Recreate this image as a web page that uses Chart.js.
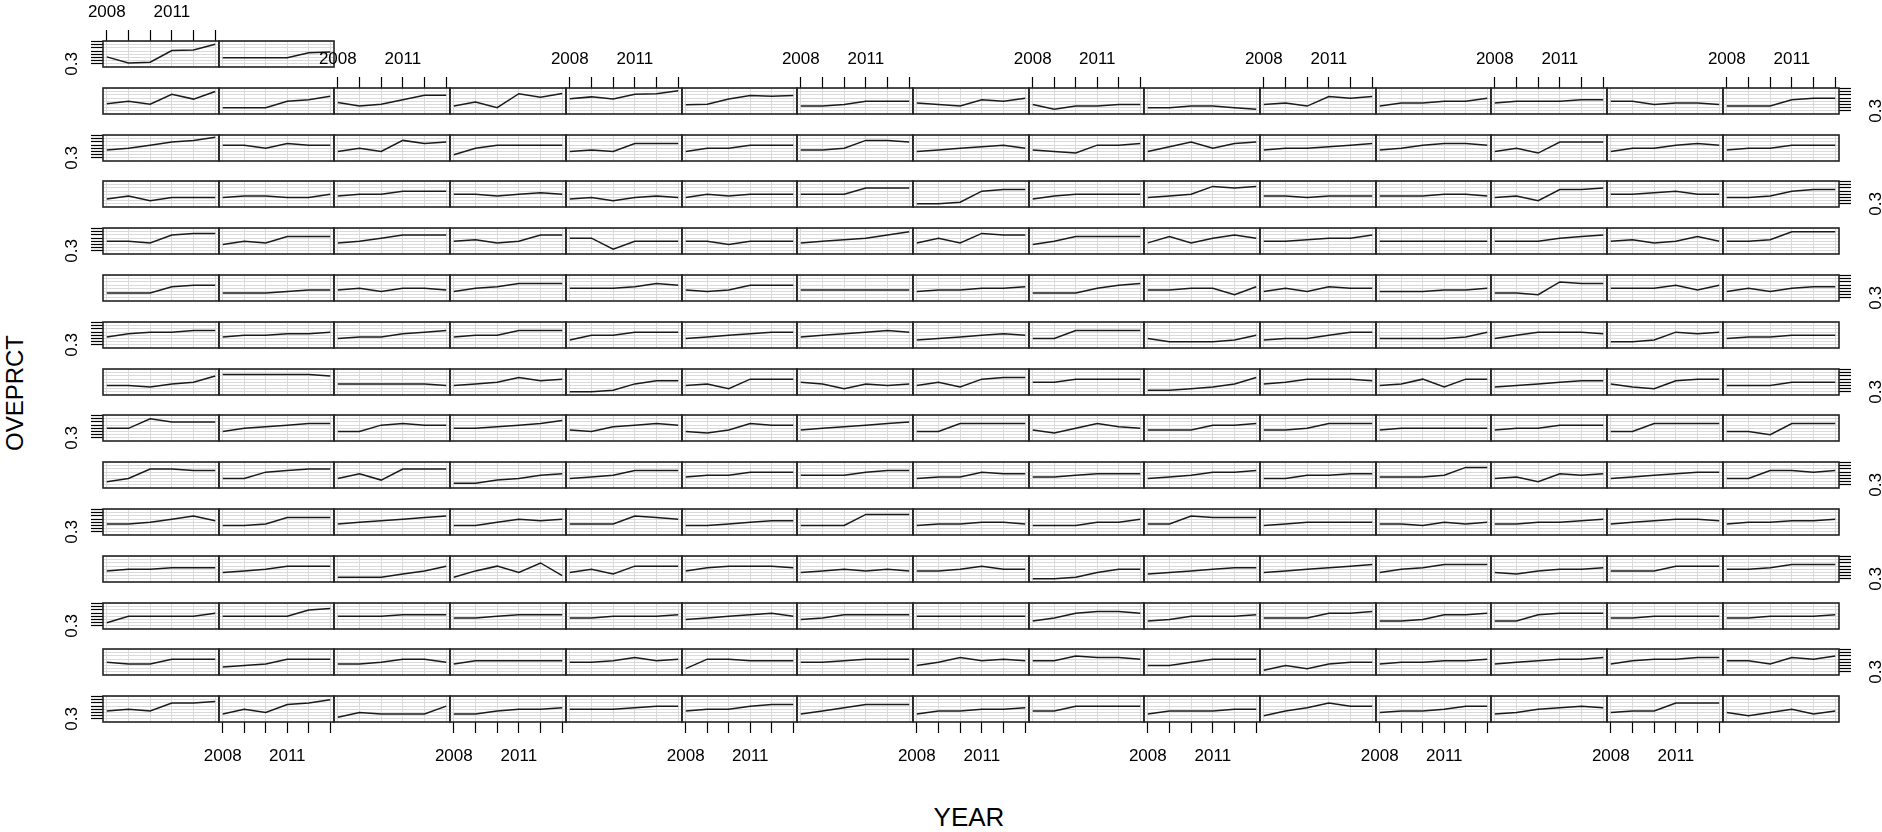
<!DOCTYPE html>
<html><head><meta charset="utf-8">
<script src="https://cdn.jsdelivr.net/npm/chart.js@4.4.0/dist/chart.umd.min.js"></script>
<style>
html,body{margin:0;padding:0;background:#fff;width:1882px;height:832px;overflow:hidden;font-family:"Liberation Sans",Arial,sans-serif;}
#wrap{position:relative;width:1882px;height:832px;overflow:hidden;}
#wrap canvas{position:absolute;}
.ttl{position:absolute;color:#000;font-family:"Liberation Sans",Arial,sans-serif;font-size:26px;white-space:nowrap;line-height:1;}
</style></head><body>
<div id="wrap">
<div class="ttl" id="ylab" style="left:15px;top:393px;font-size:24px;transform:translate(-50%,-50%) rotate(-90deg);">OVEPRCT</div>
<div class="ttl" id="xlab" style="left:969px;top:817px;transform:translate(-50%,-50%);">YEAR</div>
</div>
<script>
// ---- data ----
const years = [2008, 2009, 2010, 2011, 2012, 2013];
const xTickLabels = ['2008', '', '', '2011', '', ''];
const yTicks = [0.3, 0.4, 0.5, 0.6, 0.7, 0.8, 0.9, 1.0];
const yTickLabels = ['0.3', '', '', '', '', '', '', ''];

const row01 = [
 [0.52,0.33,0.35,0.72,0.74,0.92],[0.49,0.49,0.49,0.49,0.65,0.67]];
const row02 = [
 [0.52,0.60,0.51,0.82,0.67,0.91],[0.40,0.40,0.40,0.60,0.65,0.76],[0.56,0.45,0.51,0.65,0.79,0.79],
 [0.45,0.58,0.40,0.84,0.73,0.85],[0.68,0.74,0.67,0.82,0.84,0.93],[0.49,0.51,0.67,0.78,0.76,0.78],
 [0.45,0.45,0.50,0.60,0.60,0.60],[0.55,0.50,0.45,0.65,0.60,0.70],[0.50,0.35,0.45,0.45,0.50,0.50],
 [0.40,0.40,0.45,0.45,0.40,0.35],[0.50,0.55,0.45,0.75,0.70,0.75],[0.45,0.55,0.55,0.60,0.60,0.70],
 [0.55,0.60,0.60,0.60,0.65,0.65],[0.60,0.60,0.50,0.55,0.55,0.50],[0.45,0.45,0.45,0.65,0.70,0.70]];
const row03 = [
 [0.55,0.60,0.70,0.80,0.85,0.95],[0.70,0.70,0.60,0.75,0.70,0.70],[0.50,0.60,0.50,0.85,0.75,0.80],
 [0.40,0.60,0.70,0.70,0.70,0.70],[0.50,0.55,0.50,0.75,0.75,0.75],[0.50,0.60,0.60,0.70,0.70,0.70],
 [0.55,0.55,0.60,0.85,0.85,0.80],[0.50,0.55,0.60,0.65,0.70,0.60],[0.55,0.50,0.45,0.70,0.70,0.75],
 [0.50,0.65,0.80,0.60,0.75,0.80],[0.55,0.60,0.60,0.65,0.70,0.75],[0.55,0.60,0.70,0.75,0.75,0.70],
 [0.50,0.60,0.45,0.80,0.80,0.80],[0.50,0.60,0.60,0.70,0.75,0.70],[0.55,0.60,0.60,0.70,0.70,0.70]];
const row04 = [
 [0.45,0.55,0.40,0.50,0.50,0.50],[0.50,0.55,0.55,0.50,0.50,0.60],[0.55,0.60,0.60,0.70,0.70,0.70],
 [0.60,0.60,0.55,0.60,0.65,0.60],[0.45,0.50,0.40,0.50,0.55,0.50],[0.50,0.60,0.55,0.60,0.60,0.60],
 [0.60,0.60,0.60,0.80,0.80,0.80],[0.30,0.30,0.35,0.70,0.75,0.75],[0.45,0.55,0.60,0.60,0.60,0.60],
 [0.50,0.55,0.60,0.85,0.80,0.85],[0.55,0.55,0.50,0.55,0.55,0.55],[0.55,0.55,0.55,0.60,0.60,0.55],
 [0.50,0.55,0.40,0.75,0.75,0.80],[0.60,0.60,0.65,0.70,0.60,0.60],[0.50,0.50,0.55,0.70,0.75,0.75]];
const row05 = [
 [0.60,0.60,0.55,0.80,0.85,0.85],[0.50,0.60,0.55,0.75,0.75,0.75],[0.55,0.60,0.70,0.80,0.80,0.80],
 [0.60,0.65,0.55,0.60,0.80,0.80],[0.70,0.70,0.35,0.60,0.60,0.60],[0.60,0.60,0.50,0.60,0.60,0.60],
 [0.55,0.60,0.65,0.70,0.80,0.90],[0.55,0.70,0.55,0.85,0.80,0.80],[0.50,0.60,0.75,0.75,0.75,0.75],
 [0.55,0.75,0.55,0.70,0.80,0.70],[0.60,0.60,0.65,0.70,0.70,0.80],[0.60,0.60,0.60,0.60,0.60,0.60],
 [0.60,0.60,0.60,0.70,0.75,0.80],[0.60,0.65,0.55,0.60,0.75,0.60],[0.60,0.60,0.65,0.90,0.90,0.90]];
const row06 = [
 [0.45,0.45,0.45,0.65,0.70,0.70],[0.45,0.45,0.45,0.50,0.55,0.55],[0.55,0.60,0.50,0.60,0.60,0.55],
 [0.50,0.60,0.65,0.75,0.75,0.75],[0.60,0.60,0.60,0.65,0.75,0.70],[0.55,0.50,0.55,0.70,0.70,0.70],
 [0.55,0.55,0.55,0.55,0.55,0.55],[0.50,0.55,0.55,0.60,0.60,0.65],[0.45,0.45,0.45,0.60,0.70,0.75],
 [0.55,0.55,0.60,0.60,0.40,0.65],[0.50,0.60,0.50,0.65,0.60,0.60],[0.50,0.50,0.50,0.55,0.55,0.60],
 [0.45,0.45,0.40,0.80,0.75,0.75],[0.60,0.60,0.60,0.70,0.55,0.70],[0.50,0.60,0.50,0.60,0.65,0.65]];
const row07 = [
 [0.55,0.65,0.70,0.70,0.75,0.75],[0.55,0.60,0.60,0.65,0.65,0.70],[0.50,0.55,0.55,0.65,0.70,0.75],
 [0.55,0.60,0.60,0.75,0.75,0.75],[0.45,0.60,0.60,0.70,0.70,0.70],[0.50,0.55,0.60,0.65,0.70,0.70],
 [0.55,0.60,0.65,0.70,0.75,0.70],[0.45,0.50,0.55,0.60,0.65,0.60],[0.50,0.50,0.75,0.75,0.75,0.75],
 [0.50,0.40,0.40,0.40,0.45,0.60],[0.45,0.50,0.50,0.60,0.70,0.70],[0.50,0.50,0.50,0.50,0.55,0.70],
 [0.50,0.60,0.70,0.70,0.70,0.65],[0.40,0.40,0.45,0.70,0.65,0.70],[0.50,0.55,0.55,0.60,0.60,0.60]];
const row08 = [
 [0.50,0.50,0.45,0.55,0.60,0.80],[0.85,0.85,0.85,0.85,0.85,0.80],[0.55,0.55,0.55,0.55,0.55,0.50],
 [0.50,0.55,0.60,0.75,0.65,0.70],[0.30,0.30,0.35,0.55,0.65,0.65],[0.50,0.55,0.40,0.70,0.70,0.70],
 [0.60,0.55,0.40,0.55,0.50,0.55],[0.50,0.60,0.45,0.70,0.75,0.75],[0.60,0.60,0.70,0.70,0.70,0.70],
 [0.35,0.35,0.40,0.45,0.55,0.75],[0.55,0.60,0.70,0.70,0.70,0.65],[0.50,0.55,0.70,0.45,0.70,0.70],
 [0.45,0.50,0.55,0.60,0.65,0.65],[0.55,0.45,0.40,0.65,0.70,0.70],[0.50,0.50,0.50,0.60,0.60,0.60]];
const row09 = [
 [0.60,0.60,0.90,0.80,0.80,0.80],[0.50,0.60,0.65,0.70,0.75,0.75],[0.50,0.50,0.70,0.75,0.70,0.70],
 [0.60,0.60,0.65,0.70,0.75,0.85],[0.55,0.50,0.65,0.70,0.75,0.70],[0.50,0.45,0.55,0.75,0.70,0.70],
 [0.55,0.60,0.65,0.70,0.75,0.80],[0.50,0.50,0.75,0.75,0.75,0.75],[0.55,0.45,0.60,0.75,0.65,0.60],
 [0.55,0.55,0.55,0.70,0.70,0.75],[0.55,0.55,0.60,0.75,0.75,0.75],[0.55,0.60,0.60,0.60,0.60,0.60],
 [0.55,0.60,0.60,0.70,0.70,0.70],[0.50,0.50,0.75,0.75,0.75,0.75],[0.50,0.50,0.40,0.75,0.75,0.75]];
const row10 = [
 [0.40,0.50,0.80,0.80,0.75,0.75],[0.50,0.50,0.70,0.75,0.80,0.80],[0.50,0.65,0.45,0.80,0.80,0.80],
 [0.35,0.35,0.45,0.50,0.60,0.65],[0.50,0.55,0.60,0.75,0.75,0.75],[0.55,0.60,0.60,0.70,0.70,0.70],
 [0.60,0.60,0.60,0.70,0.75,0.75],[0.50,0.55,0.55,0.70,0.65,0.65],[0.55,0.55,0.60,0.65,0.65,0.65],
 [0.50,0.55,0.60,0.70,0.70,0.75],[0.50,0.50,0.60,0.60,0.65,0.65],[0.55,0.55,0.55,0.60,0.85,0.85],
 [0.50,0.55,0.40,0.65,0.60,0.65],[0.50,0.55,0.60,0.65,0.70,0.70],[0.50,0.50,0.75,0.75,0.70,0.75]];
const row11 = [
 [0.55,0.55,0.60,0.70,0.80,0.65],[0.50,0.50,0.55,0.75,0.75,0.75],[0.55,0.60,0.65,0.70,0.75,0.80],
 [0.50,0.50,0.60,0.70,0.65,0.70],[0.55,0.55,0.55,0.80,0.75,0.70],[0.50,0.50,0.55,0.60,0.65,0.65],
 [0.50,0.50,0.50,0.85,0.85,0.85],[0.50,0.55,0.55,0.60,0.60,0.55],[0.50,0.50,0.50,0.60,0.60,0.70],
 [0.55,0.55,0.80,0.75,0.75,0.75],[0.50,0.55,0.60,0.60,0.60,0.60],[0.55,0.55,0.50,0.60,0.55,0.60],
 [0.55,0.55,0.60,0.60,0.65,0.70],[0.55,0.60,0.65,0.70,0.70,0.65],[0.55,0.60,0.60,0.65,0.65,0.70]];
const row12 = [
 [0.55,0.60,0.60,0.65,0.65,0.65],[0.50,0.55,0.60,0.70,0.70,0.70],[0.35,0.35,0.35,0.45,0.55,0.70],
 [0.35,0.55,0.70,0.50,0.80,0.40],[0.50,0.60,0.45,0.70,0.70,0.70],[0.55,0.65,0.70,0.70,0.70,0.65],
 [0.50,0.55,0.60,0.55,0.60,0.55],[0.55,0.55,0.60,0.70,0.60,0.60],[0.30,0.30,0.35,0.50,0.60,0.60],
 [0.45,0.50,0.55,0.60,0.65,0.65],[0.50,0.55,0.60,0.65,0.70,0.75],[0.50,0.60,0.65,0.75,0.75,0.75],
 [0.50,0.45,0.55,0.60,0.60,0.65],[0.55,0.55,0.55,0.70,0.70,0.70],[0.60,0.60,0.65,0.75,0.75,0.75]];
const row13 = [
 [0.40,0.60,0.60,0.60,0.60,0.70],[0.60,0.60,0.60,0.60,0.80,0.85],[0.60,0.60,0.60,0.65,0.65,0.65],
 [0.55,0.55,0.60,0.65,0.65,0.65],[0.55,0.55,0.60,0.60,0.60,0.65],[0.50,0.55,0.60,0.65,0.70,0.60],
 [0.50,0.55,0.65,0.65,0.65,0.65],[0.60,0.60,0.60,0.60,0.60,0.60],[0.45,0.55,0.70,0.75,0.75,0.70],
 [0.45,0.50,0.60,0.60,0.60,0.65],[0.55,0.55,0.55,0.70,0.70,0.75],[0.45,0.45,0.50,0.65,0.65,0.70],
 [0.45,0.45,0.65,0.70,0.70,0.70],[0.55,0.55,0.60,0.60,0.60,0.60],[0.55,0.55,0.60,0.60,0.60,0.65]];
const row14 = [
 [0.60,0.55,0.55,0.70,0.70,0.70],[0.45,0.50,0.55,0.70,0.70,0.70],[0.55,0.55,0.60,0.70,0.70,0.60],
 [0.55,0.65,0.65,0.65,0.65,0.65],[0.60,0.60,0.65,0.75,0.65,0.70],[0.40,0.70,0.70,0.65,0.65,0.65],
 [0.60,0.60,0.65,0.70,0.70,0.70],[0.50,0.60,0.75,0.65,0.70,0.65],[0.65,0.65,0.80,0.75,0.75,0.70],
 [0.50,0.50,0.60,0.70,0.70,0.70],[0.35,0.50,0.40,0.55,0.60,0.60],[0.55,0.60,0.60,0.65,0.65,0.70],
 [0.55,0.60,0.65,0.70,0.70,0.75],[0.55,0.65,0.70,0.70,0.75,0.75],[0.65,0.65,0.55,0.75,0.70,0.80]];
const row15 = [
 [0.55,0.60,0.55,0.80,0.80,0.85],[0.45,0.60,0.50,0.75,0.80,0.90],[0.35,0.50,0.45,0.45,0.45,0.70],
 [0.45,0.45,0.55,0.60,0.60,0.65],[0.60,0.60,0.60,0.65,0.70,0.70],[0.55,0.60,0.60,0.70,0.75,0.75],
 [0.45,0.55,0.65,0.75,0.75,0.75],[0.45,0.55,0.55,0.60,0.60,0.65],[0.55,0.55,0.70,0.70,0.70,0.70],
 [0.45,0.55,0.55,0.55,0.60,0.60],[0.40,0.55,0.65,0.80,0.70,0.70],[0.50,0.55,0.55,0.60,0.70,0.70],
 [0.45,0.50,0.60,0.65,0.70,0.65],[0.50,0.55,0.55,0.80,0.80,0.80],[0.50,0.40,0.50,0.60,0.45,0.55]];

const rows = [row01,row02,row03,row04,row05,row06,row07,row08,row09,row10,row11,row12,row13,row14,row15];

// ---- layout / style ----
const X0 = 103, PW = 115.7, Y0 = 41, PITCH = 46.8, PH = 26;
const M = 50;
const XMIN = 2007.825, XMAX = 2013.175;
const YMIN = 0.2, YMAX = 1.02;
const FONT = {family: '"Liberation Sans", Arial, sans-serif', size: 17};
const GRID = '#dadada';

const framePlugin = {
  id: 'frame',
  afterDraw(chart) {
    const a = chart.chartArea, ctx = chart.ctx;
    ctx.save();
    ctx.strokeStyle = '#222';
    ctx.lineWidth = 1.6;
    ctx.strokeRect(a.left, a.top, a.right - a.left, a.bottom - a.top);
    ctx.restore();
  }
};
const yLabelPlugin = {
  id: 'ylabels',
  afterDraw(chart, args, opts) {
    const ctx = chart.ctx;
    ctx.save();
    ctx.fillStyle = '#000';
    ctx.font = FONT.size + 'px ' + FONT.family;
    ctx.textAlign = 'center';
    ctx.textBaseline = 'middle';
    const draw = (scale, x) => {
      yTicks.forEach((v, i) => {
        const t = yTickLabels[i];
        if (!t) return;
        const y = scale.getPixelForValue(v);
        ctx.save();
        ctx.translate(x, y);
        ctx.rotate(-Math.PI / 2);
        ctx.fillText(t, 0, 0);
        ctx.restore();
      });
    };
    if (opts.left) draw(chart.scales.y, chart.chartArea.left - 31);
    if (opts.right) draw(chart.scales.yRight, chart.chartArea.right + 37);
    ctx.restore();
  }
};

const setX = s => { s.ticks = years.map(v => ({value: v})); };
const setY = s => { s.ticks = yTicks.map(v => ({value: v})); };

function xScale(pos, show, onArea) {
  return {
    type: 'linear', axis: 'x', position: pos, min: XMIN, max: XMAX,
    afterBuildTicks: setX,
    afterFit: s => { s.height = M; },
    border: {display: false},
    grid: {display: true, drawOnChartArea: onArea, color: GRID, lineWidth: 1,
           drawTicks: show, tickLength: 11, tickColor: '#000', tickWidth: 1.2},
    ticks: {display: show, autoSkip: false, maxRotation: 0, minRotation: 0,
            padding: pos === 'top' ? 7 : 13.5, color: '#000', font: FONT,
            callback: (v, i) => xTickLabels[i]}
  };
}
function yScale(pos, show, onArea) {
  return {
    type: 'linear', axis: 'y', position: pos, min: YMIN, max: YMAX,
    afterBuildTicks: setY,
    afterFit: s => { s.width = M; },
    border: {display: false},
    grid: {display: true, drawOnChartArea: onArea, color: GRID, lineWidth: 1,
           drawTicks: show, tickLength: 12, tickColor: '#000', tickWidth: 1.2},
    ticks: {display: false, callback: (v, i) => yTickLabels[i]}
  };
}

const wrap = document.getElementById('wrap');
rows.forEach((row, r) => {
  row.forEach((vals, c) => {
    const l = Math.round(X0 + c * PW), rgt = Math.round(X0 + (c + 1) * PW);
    const t = Math.round(Y0 + r * PITCH), b = Math.round(Y0 + r * PITCH + PH);
    const w = rgt - l, h = b - t;
    const showTop = c % 2 === 0 && ((c < 2 && r === 0) || (c >= 2 && r === 1));
    const showBottom = r === rows.length - 1 && c % 2 === 1;
    const showLeft = c === 0 && r % 2 === 0;
    const showRight = c === 14 && r % 2 === 1;
    const cv = document.createElement('canvas');
    cv.width = w + 2 * M; cv.height = h + 2 * M;
    cv.style.left = (l - M) + 'px'; cv.style.top = (t - M) + 'px';
    cv.style.width = (w + 2 * M) + 'px'; cv.style.height = (h + 2 * M) + 'px';
    wrap.appendChild(cv);
    new Chart(cv, {
      type: 'line',
      data: {datasets: [{
        data: years.map((yr, i) => ({x: yr, y: vals[i]})),
        borderColor: '#1a1a1a', borderWidth: 1.5, pointRadius: 0, tension: 0, fill: false
      }]},
      options: {
        responsive: false, animation: false, devicePixelRatio: 1, events: [],
        layout: {padding: 0},
        plugins: {legend: {display: false}, tooltip: {enabled: false}, title: {display: false},
                  ylabels: {left: showLeft, right: showRight}},
        scales: {
          x: xScale('bottom', showBottom, true),
          xTop: xScale('top', showTop, false),
          y: yScale('left', showLeft, true),
          yRight: yScale('right', showRight, false)
        }
      },
      plugins: [framePlugin, yLabelPlugin]
    });
  });
});
</script>
</body></html>
